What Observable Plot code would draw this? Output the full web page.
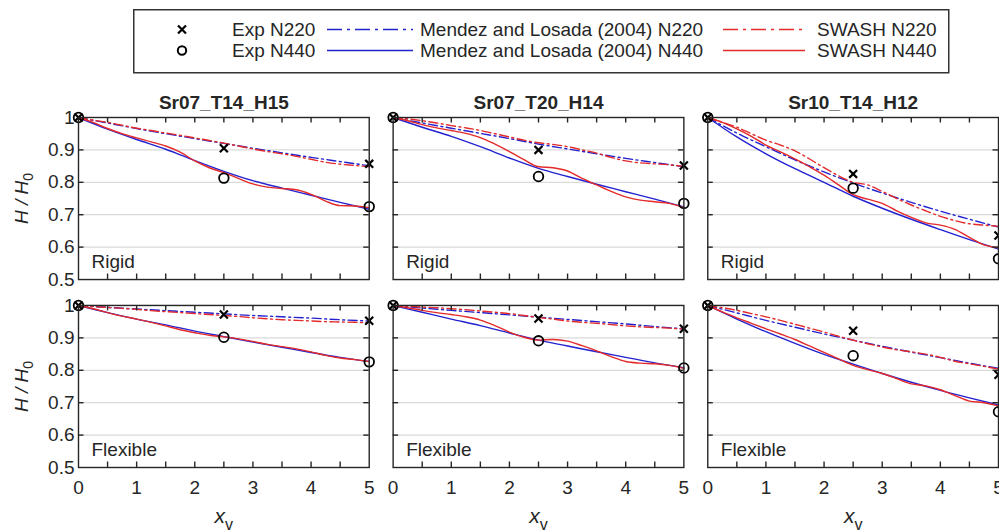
<!DOCTYPE html>
<html><head><meta charset="utf-8">
<script src="https://cdn.jsdelivr.net/npm/d3@7"></script>
<script src="https://cdn.jsdelivr.net/npm/@observablehq/plot@0.6"></script>
<style>
html,body{margin:0;padding:0;background:#fff;overflow:hidden;}
#wrap{position:relative;width:999px;height:531px;font-family:"Liberation Sans",Arial,sans-serif;color:#262626;}
#legend{position:absolute;left:133px;top:9px;}
#chart{position:absolute;left:0;top:80px;}
</style></head><body>
<div id="wrap"><div id="legend"></div><div id="chart"></div></div>
<script>
// ---------- data ----------
const cases = ["Sr07_T14_H15", "Sr07_T20_H14", "Sr10_T14_H12"];
const types = ["Rigid", "Flexible"];
const xExp = [0, 2.5, 5];
const xModel = [0, 0.5, 1, 1.5, 2, 2.5, 3, 3.5, 4, 4.5, 5];
const xSwash = [0, 0.25, 0.5, 0.75, 1, 1.25, 1.5, 1.75, 2, 2.25, 2.5, 2.75, 3, 3.25, 3.5, 3.75, 4, 4.25, 4.5, 4.75, 5];
const xTicks = [0, 1, 2, 3, 4, 5];
const xMinorTicks = [0.5, 1, 1.5, 2, 2.5, 3, 3.5, 4, 4.5];
const yTicks = [0.5, 0.6, 0.7, 0.8, 0.9, 1];
const yInnerTicks = [0.6, 0.7, 0.8, 0.9];
const yTickLabels = ["0.5", "0.6", "0.7", "0.8", "0.9", "1"];
const legendLabels = ["Exp N220", "Exp N440", "Mendez and Losada (2004) N220", "Mendez and Losada (2004) N440", "SWASH N220", "SWASH N440"];

// experiments (per case)
const expN220_Rigid = [[1, 0.905, 0.857], [1, 0.900, 0.852], [1, 0.826, 0.636]];
const expN440_Rigid = [[1, 0.813, 0.725], [1, 0.818, 0.735], [1, 0.782, 0.564]];
const expN220_Flexible = [[1, 0.972, 0.953], [1, 0.960, 0.928], [1, 0.922, 0.786]];
const expN440_Flexible = [[1, 0.902, 0.826], [1, 0.891, 0.807], [1, 0.845, 0.672]];

// Mendez and Losada (2004)
const mendezN220_Rigid = [
  [1, 0.983, 0.966, 0.950, 0.935, 0.920, 0.905, 0.891, 0.877, 0.864, 0.851],
  [1, 0.983, 0.967, 0.951, 0.935, 0.918, 0.903, 0.888, 0.874, 0.861, 0.848],
  [1, 0.952, 0.910, 0.869, 0.832, 0.798, 0.767, 0.738, 0.711, 0.686, 0.662]];
const mendezN440_Rigid = [
  [1, 0.964, 0.932, 0.902, 0.867, 0.834, 0.805, 0.782, 0.760, 0.738, 0.717],
  [1, 0.970, 0.942, 0.910, 0.875, 0.843, 0.818, 0.794, 0.771, 0.748, 0.724],
  [1, 0.940, 0.888, 0.842, 0.800, 0.757, 0.720, 0.686, 0.654, 0.623, 0.594]];
const mendezN220_Flexible = [
  [1, 0.994, 0.989, 0.984, 0.979, 0.974, 0.969, 0.965, 0.961, 0.956, 0.952],
  [1, 0.992, 0.985, 0.978, 0.971, 0.964, 0.957, 0.950, 0.943, 0.935, 0.928],
  [1, 0.977, 0.954, 0.933, 0.912, 0.893, 0.874, 0.856, 0.839, 0.822, 0.806]];
const mendezN440_Flexible = [
  [1, 0.978, 0.958, 0.940, 0.921, 0.904, 0.887, 0.871, 0.855, 0.840, 0.827],
  [1, 0.979, 0.958, 0.938, 0.915, 0.893, 0.875, 0.857, 0.840, 0.823, 0.808],
  [1, 0.958, 0.919, 0.883, 0.849, 0.819, 0.790, 0.763, 0.738, 0.715, 0.693]];

// SWASH
const swashN220_Rigid = [
  [1, 0.992, 0.985, 0.976, 0.967, 0.960, 0.952, 0.945, 0.937, 0.929, 0.921, 0.912, 0.903, 0.895, 0.888, 0.880, 0.871, 0.862, 0.856, 0.852, 0.848],
  [1, 0.996, 0.990, 0.983, 0.975, 0.968, 0.960, 0.950, 0.940, 0.930, 0.922, 0.917, 0.910, 0.900, 0.890, 0.877, 0.866, 0.860, 0.857, 0.854, 0.849],
  [1, 0.985, 0.970, 0.950, 0.930, 0.915, 0.897, 0.872, 0.845, 0.820, 0.800, 0.792, 0.772, 0.750, 0.730, 0.712, 0.695, 0.682, 0.672, 0.668, 0.664]];
const swashN440_Rigid = [
  [1, 0.985, 0.966, 0.950, 0.937, 0.925, 0.912, 0.893, 0.866, 0.845, 0.830, 0.812, 0.795, 0.785, 0.781, 0.777, 0.763, 0.742, 0.728, 0.727, 0.722],
  [1, 0.990, 0.978, 0.968, 0.960, 0.951, 0.938, 0.918, 0.895, 0.870, 0.848, 0.845, 0.835, 0.812, 0.792, 0.772, 0.755, 0.745, 0.740, 0.735, 0.722],
  [1, 0.985, 0.965, 0.942, 0.915, 0.894, 0.872, 0.848, 0.822, 0.792, 0.762, 0.748, 0.735, 0.712, 0.692, 0.675, 0.668, 0.655, 0.630, 0.607, 0.598]];
const swashN220_Flexible = [
  [1, 0.997, 0.994, 0.991, 0.988, 0.984, 0.981, 0.978, 0.975, 0.972, 0.969, 0.966, 0.962, 0.959, 0.956, 0.954, 0.952, 0.950, 0.949, 0.948, 0.947],
  [1, 0.998, 0.995, 0.993, 0.990, 0.987, 0.983, 0.979, 0.975, 0.969, 0.963, 0.958, 0.952, 0.948, 0.945, 0.941, 0.937, 0.934, 0.932, 0.930, 0.927],
  [1, 0.993, 0.985, 0.975, 0.965, 0.954, 0.942, 0.930, 0.918, 0.905, 0.893, 0.882, 0.872, 0.863, 0.857, 0.850, 0.840, 0.828, 0.820, 0.812, 0.804]];
const swashN440_Flexible = [
  [1, 0.990, 0.978, 0.967, 0.958, 0.948, 0.937, 0.925, 0.916, 0.908, 0.903, 0.897, 0.889, 0.880, 0.873, 0.866, 0.857, 0.846, 0.838, 0.833, 0.827],
  [1, 0.993, 0.985, 0.978, 0.972, 0.965, 0.955, 0.938, 0.918, 0.902, 0.893, 0.895, 0.890, 0.876, 0.860, 0.842, 0.827, 0.822, 0.820, 0.815, 0.806],
  [1, 0.980, 0.962, 0.945, 0.928, 0.912, 0.895, 0.875, 0.855, 0.835, 0.815, 0.802, 0.790, 0.774, 0.758, 0.752, 0.740, 0.722, 0.705, 0.700, 0.690]];

// ---------- table ----------
const rows = [];
function add(series, key, xs, type) {
  series.forEach((vals, i) => vals.forEach((v, j) => rows.push({case: cases[i], type, key, x: xs[j], y: v})));
}
add(expN220_Rigid, "exp220", xExp, "Rigid");
add(expN440_Rigid, "exp440", xExp, "Rigid");
add(expN220_Flexible, "exp220", xExp, "Flexible");
add(expN440_Flexible, "exp440", xExp, "Flexible");
add(mendezN220_Rigid, "m220", xModel, "Rigid");
add(mendezN440_Rigid, "m440", xModel, "Rigid");
add(mendezN220_Flexible, "m220", xModel, "Flexible");
add(mendezN440_Flexible, "m440", xModel, "Flexible");
add(swashN220_Rigid, "s220", xSwash, "Rigid");
add(swashN440_Rigid, "s440", xSwash, "Rigid");
add(swashN220_Flexible, "s220", xSwash, "Flexible");
add(swashN440_Flexible, "s440", xSwash, "Flexible");
const sel = k => rows.filter(d => d.key === k);

const BLUE = "#2222d0", RED = "#e42a2a", INK = "#262626";
const DASH = "9,3.5,2,3.5";
const FONT = '"Liberation Sans", Arial, sans-serif';

// layout
const W = 999, H = 451, MT = 37, MB = 64, ML = 78, MR = 1, PX = 0.076, PY = 0.138, TICK = 5.5;
const bandW = (W - ML - MR) / (3 - PX) * (1 - PX);
const bandH = (H - MT - MB) / (2 - PY) * (1 - PY);

const panelLabels = d3.cross(cases, types, (c, t) => ({case: c, type: t}));
const yLabelRows = types.map(t => ({case: cases[0], type: t, label: "H / H0"}));
const xLabelRows = cases.map(c => ({case: c, type: "Flexible", label: "xv"}));
const xTickRows = d3.cross(panelLabels, xMinorTicks, (p, v) => ({...p, v}));
const yTickRows = d3.cross(panelLabels, yInnerTicks, (p, v) => ({...p, v}));

const lineOpts = {x: "x", y: "y", fx: "case", fy: "type", strokeWidth: 1.4, curve: "monotone-x"};
const tk = {fx: "case", fy: "type", stroke: INK, strokeWidth: 1.4};

const chart = Plot.plot({
  width: W, height: H,
  marginTop: MT, marginBottom: MB, marginLeft: ML, marginRight: MR,
  style: {fontFamily: FONT, fontSize: "19px", background: "white", color: INK, overflow: "visible"},
  x: {domain: [0, 5], label: null},
  y: {domain: [0.5, 1], label: null},
  fx: {domain: cases, paddingInner: PX, paddingOuter: 0, round: false, label: null},
  fy: {domain: types, paddingInner: PY, paddingOuter: 0, round: false, axis: null, label: null},
  marks: [
    Plot.ruleY(yTicks, {stroke: "#dadada", strokeWidth: 1.2}),
    Plot.line(sel("m220"), {...lineOpts, stroke: BLUE, strokeDasharray: DASH}),
    Plot.line(sel("m440"), {...lineOpts, stroke: BLUE}),
    Plot.line(sel("s220"), {...lineOpts, stroke: RED, strokeDasharray: DASH}),
    Plot.line(sel("s440"), {...lineOpts, stroke: RED}),
    Plot.dot(sel("exp440"), {x: "x", y: "y", fx: "case", fy: "type", symbol: "circle", r: 4.8, stroke: "black", fill: "none", strokeWidth: 1.8}),
    Plot.dot(sel("exp220"), {x: "x", y: "y", fx: "case", fy: "type", symbol: "times", r: 3.7, stroke: "black", strokeWidth: 2.2}),
    // inward ticks on all four sides of every panel
    Plot.tickX(xTickRows, {x: "v", ...tk, insetTop: bandH - TICK}),
    Plot.tickX(xTickRows, {x: "v", ...tk, insetBottom: bandH - TICK}),
    Plot.tickY(yTickRows, {y: "v", ...tk, insetRight: bandW - TICK}),
    Plot.tickY(yTickRows, {y: "v", ...tk, insetLeft: bandW - TICK}),
    Plot.frame({stroke: INK, strokeWidth: 1.4}),
    Plot.axisX(xTicks, {anchor: "bottom", tickSize: 0, tickPadding: 13, fontSize: 19, fill: INK, label: null}),
    Plot.axisY(yTicks, {anchor: "left", tickSize: 0, tickPadding: 4, fontSize: 19, fill: INK, label: null,
      tickFormat: d => yTickLabels[yTicks.indexOf(d)]}),
    Plot.axisFx({anchor: "top", tickSize: 0, tickPadding: 9, fontSize: 19, fontWeight: "bold", fill: INK, label: null}),
    Plot.text(panelLabels, {fx: "case", fy: "type", text: "type", frameAnchor: "bottom-left", textAnchor: "start", lineAnchor: "bottom", dx: 13, dy: -12, fontSize: 19, fill: INK}),
    Plot.text(yLabelRows, {fx: "case", fy: "type", text: "label", frameAnchor: "left", dx: -51, rotate: -90, textAnchor: "middle", lineAnchor: "bottom", fontSize: 19, fontStyle: "italic", fill: INK}),
    Plot.text(xLabelRows, {fx: "case", fy: "type", text: "label", frameAnchor: "bottom", dy: 55, textAnchor: "middle", lineAnchor: "bottom", fontSize: 21, fontStyle: "italic", fill: INK})
  ]
});
document.getElementById("chart").appendChild(chart);

// subscripts for axis labels
d3.select(chart).selectAll("text").each(function () {
  const t = d3.select(this);
  const s = this.textContent;
  if (s === "H / H0") {
    t.text("H / H");
    t.append("tspan").attr("dy", 5).attr("font-size", 14).attr("font-style", "normal").text("0");
  } else if (s === "xv") {
    t.text("x");
    t.append("tspan").attr("dy", 7).attr("font-size", 16).attr("font-style", "normal").text("v");
  }
});

// ---------- legend ----------
const lg = d3.select("#legend").append("svg").attr("width", 817).attr("height", 65)
  .style("font-family", FONT).style("font-size", "19px").style("display", "block");
lg.append("rect").attr("x", 0.75).attr("y", 0.75).attr("width", 815).attr("height", 63)
  .attr("fill", "white").attr("stroke", "#333").attr("stroke-width", 1.5);
const rowY = [20.5, 41.5];
[0, 1].forEach(r => {
  const y = rowY[r];
  if (r === 0) {
    lg.append("path").attr("d", `M45,${y - 4}L53,${y + 4}M45,${y + 4}L53,${y - 4}`).attr("stroke", "black").attr("stroke-width", 2.2).attr("fill", "none");
  } else {
    lg.append("circle").attr("cx", 49).attr("cy", y).attr("r", 4.2).attr("stroke", "black").attr("stroke-width", 2).attr("fill", "none");
  }
  lg.append("text").attr("x", 99).attr("y", y + 6.8).attr("fill", INK).text(legendLabels[r]);
  lg.append("line").attr("x1", 194).attr("x2", 280).attr("y1", y).attr("y2", y).attr("stroke", BLUE).attr("stroke-width", 1.6)
    .attr("stroke-dasharray", r === 0 ? "15,5,3,5" : null);
  lg.append("text").attr("x", 287).attr("y", y + 6.8).attr("fill", INK).text(legendLabels[2 + r]);
  lg.append("line").attr("x1", 590).attr("x2", 672).attr("y1", y).attr("y2", y).attr("stroke", RED).attr("stroke-width", 1.6)
    .attr("stroke-dasharray", r === 0 ? "15,5,3,5" : null);
  lg.append("text").attr("x", 684).attr("y", y + 6.8).attr("fill", INK).text(legendLabels[4 + r]);
});
</script>
</body></html>
